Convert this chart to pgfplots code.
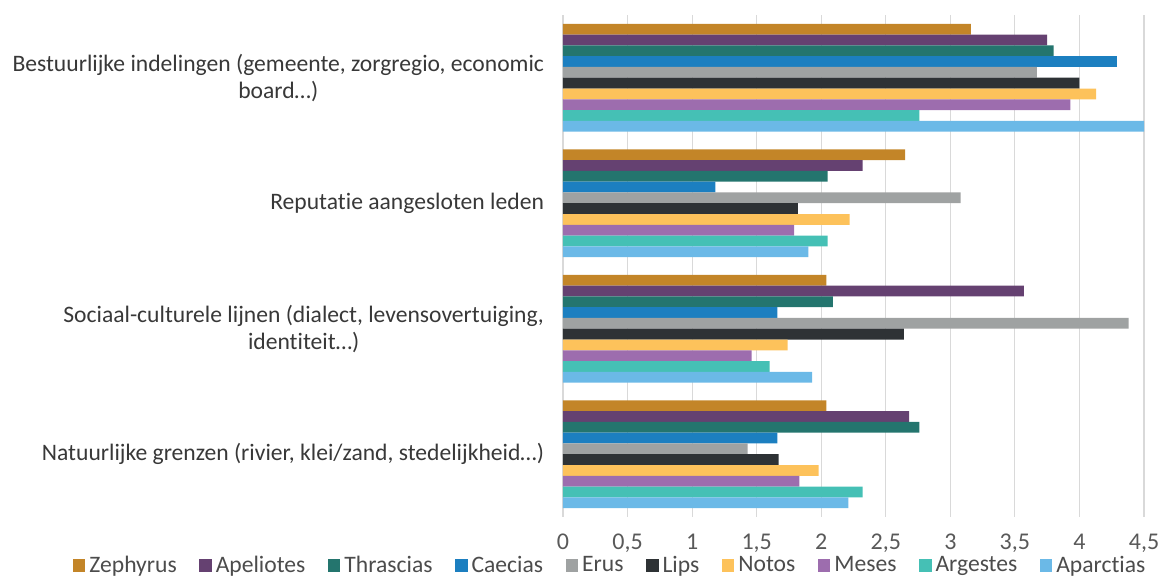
\documentclass[border=0pt]{standalone}
\usepackage{pgfplots}
\pgfplotsset{compat=1.18}
\usepackage{pgfplotstable}
\usepackage{fontspec}
\setmainfont{Carlito}[Ligatures=NoCommon]
\definecolor{cZe}{HTML}{C38528}
\definecolor{cAp}{HTML}{654171}
\definecolor{cTh}{HTML}{24756E}
\definecolor{cCa}{HTML}{1C7FC0}
\definecolor{cEr}{HTML}{9FA2A2}
\definecolor{cLi}{HTML}{2E3235}
\definecolor{cNo}{HTML}{FDC25B}
\definecolor{cMe}{HTML}{9D6DAE}
\definecolor{cAr}{HTML}{45C0B5}
\definecolor{cAa}{HTML}{6BB9E7}
\pgfplotstableread{
pos Zephyrus Apeliotes Thrascias Caecias Erus Lips Notos Meses Argestes Aparctias
3 3.16 3.75 3.80 4.29 3.67 4.00 4.13 3.93 2.76 4.50
2 2.65 2.32 2.05 1.18 3.08 1.82 2.22 1.79 2.05 1.90
1 2.04 3.57 2.09 1.66 4.38 2.64 1.74 1.46 1.60 1.93
0 2.04 2.68 2.76 1.66 1.43 1.67 1.98 1.83 2.32 2.21
}\data
\begin{document}
\begin{tikzpicture}
\begin{axis}[
  name=ax,
  scale only axis,
  width=290.5pt, height=251pt,
  xbar, bar width=0.086,
  xmin=0, xmax=4.5, ymin=-0.5, ymax=3.5,
  xtick={0,0.5,...,4.5},
  ytick={0,1,2,3},
  yticklabels={{Natuurlijke grenzen (rivier, klei/zand, stedelijkheid\dots)},
    {Sociaal-culturele lijnen (dialect, levensovertuiging,\\identiteit\dots)},
    {Reputatie aangesloten leden},
    {Bestuurlijke indelingen (gemeente, zorgregio, economic\\board\dots)}},
  yticklabel style={align=center, font=\fontsize{11.8}{13.5}\selectfont, text=black!78, xshift=-6pt},
  xticklabel style={font=\fontsize{12}{14}\selectfont, text=black!65, yshift=-5pt},
  /pgf/number format/assume math mode=true,
  /pgf/number format/use comma,
  xmajorgrids, major grid style={draw=black!15, line width=0.6pt},
  major tick length=0pt,
  axis line style={draw=none},
  clip=false,
  legend columns=10,
  legend style={at={(0.083,-0.097)}, anchor=center, draw=none, fill=none,
    font=\fontsize{11.8}{14}\selectfont, text=black!70,
    /tikz/every even column/.append style={column sep=9.3pt}},
  legend image code/.code={\fill[#1] (0pt,-3.1pt) rectangle (6.2pt,3.1pt);},
]
\addplot[fill=cZe, draw=none, bar shift=0.387] table[x=Zephyrus, y=pos]{\data};
\addplot[fill=cAp, draw=none, bar shift=0.301] table[x=Apeliotes, y=pos]{\data};
\addplot[fill=cTh, draw=none, bar shift=0.215] table[x=Thrascias, y=pos]{\data};
\addplot[fill=cCa, draw=none, bar shift=0.129] table[x=Caecias, y=pos]{\data};
\addplot[fill=cEr, draw=none, bar shift=0.043] table[x=Erus, y=pos]{\data};
\addplot[fill=cLi, draw=none, bar shift=-0.043] table[x=Lips, y=pos]{\data};
\addplot[fill=cNo, draw=none, bar shift=-0.129] table[x=Notos, y=pos]{\data};
\addplot[fill=cMe, draw=none, bar shift=-0.215] table[x=Meses, y=pos]{\data};
\addplot[fill=cAr, draw=none, bar shift=-0.301] table[x=Argestes, y=pos]{\data};
\addplot[fill=cAa, draw=none, bar shift=-0.387] table[x=Aparctias, y=pos]{\data};
\legend{Zephyrus, Apeliotes, Thrascias, Caecias, Erus, Lips, Notos, Meses, Argestes, Aparctias}
\end{axis}
\pgfresetboundingbox
\path[use as bounding box] ([xshift=-281.5pt,yshift=-31.5pt]ax.south west) rectangle ([xshift=7.5pt,yshift=7.5pt]ax.north east);
\end{tikzpicture}
\end{document}
